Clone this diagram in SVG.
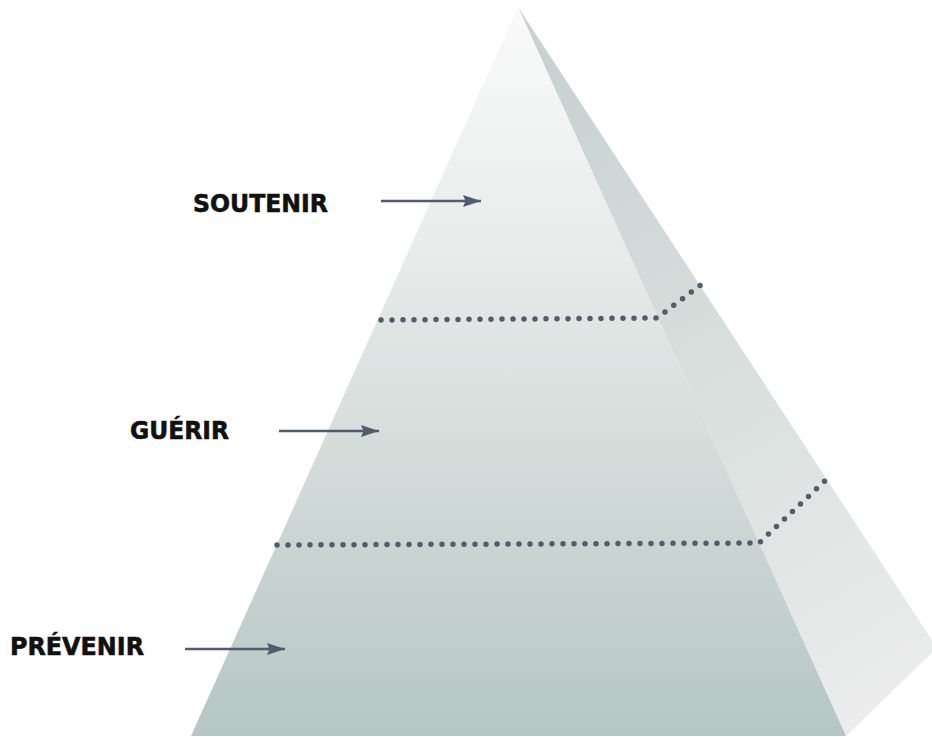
<svg xmlns="http://www.w3.org/2000/svg" width="932" height="737" viewBox="0 0 932 737">
<style>
.lbl{font-family:"DejaVu Sans","Liberation Sans",sans-serif;font-weight:bold;font-size:25px;fill:#111;stroke:#111;stroke-width:0.6}
.dots{fill:none;stroke:#4f5d6e;stroke-width:5.5;stroke-linecap:round;stroke-dasharray:0 11}
.arr{stroke:#4f5d6e;stroke-width:2.5;fill:none}
</style>
<defs>
<linearGradient id="front" x1="0" y1="7" x2="0" y2="736" gradientUnits="userSpaceOnUse">
<stop offset="0" stop-color="#fafafa"/>
<stop offset="0.3" stop-color="#eaedec"/>
<stop offset="0.6" stop-color="#d5dddb"/>
<stop offset="1" stop-color="#b5c6c4"/>
</linearGradient>
<linearGradient id="side" x1="560" y1="80" x2="920" y2="680" gradientUnits="userSpaceOnUse">
<stop offset="0" stop-color="#c8d3d1"/>
<stop offset="0.5" stop-color="#d9e0de"/>
<stop offset="1" stop-color="#ebeceb"/>
</linearGradient>
<marker id="ah" viewBox="0 0 18 12" refX="18" refY="6" markerWidth="18" markerHeight="12" markerUnits="userSpaceOnUse" orient="auto">
<path d="M0,0 L18,6 L0,12 L2.5,6 Z" fill="#4f5d6e"/>
</marker>
</defs>
<g id="pyramid">
<polygon id="side-face" points="518,7 937,648 846,736" fill="url(#side)"/>
<polygon id="front-face" points="518,7 846,736 191,736" fill="url(#front)"/>
</g>
<g id="connectors">
<polyline class="dots" points="381,320 657,318 702,284"/>
<polyline class="dots" points="277,545 759,543 828,478"/>
<line class="arr" x1="381" y1="201" x2="481" y2="201" marker-end="url(#ah)"/>
<line class="arr" x1="279" y1="431" x2="379" y2="431" marker-end="url(#ah)"/>
<line class="arr" x1="185" y1="649" x2="285" y2="649" marker-end="url(#ah)"/>
</g>
<g id="soutenir"><text class="lbl" x="193" y="212" textLength="135" lengthAdjust="spacingAndGlyphs">SOUTENIR</text></g>
<g id="guerir"><text class="lbl" x="130" y="439" textLength="99" lengthAdjust="spacingAndGlyphs">GUÉRIR</text></g>
<g id="prevenir"><text class="lbl" x="10" y="655" textLength="134" lengthAdjust="spacingAndGlyphs">PRÉVENIR</text></g>
</svg>
